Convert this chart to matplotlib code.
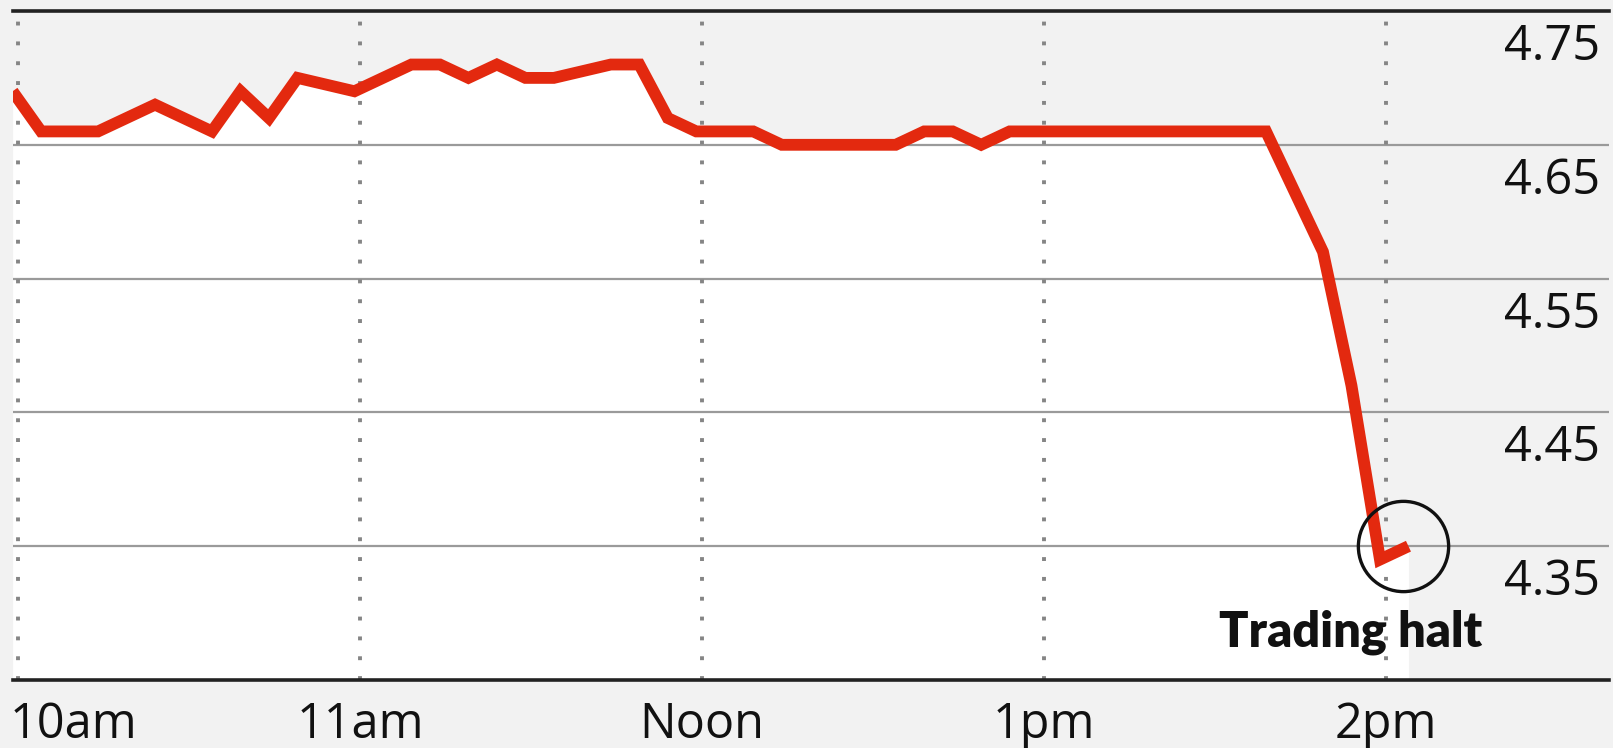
import matplotlib
matplotlib.use("Agg")
import matplotlib.pyplot as plt
import matplotlib.transforms as mtransforms

# share price through the session, minutes after 10am
minutes = [-1, 4, 14, 24, 34, 39, 44, 49, 59, 69, 74, 79, 84, 89, 94,
           104, 109, 114, 119, 129, 134, 154, 159, 164, 169, 174,
           219, 229, 234, 239, 244]
prices = [4.74, 4.71, 4.71, 4.73, 4.71, 4.74, 4.72, 4.75, 4.74, 4.76, 4.76,
          4.75, 4.76, 4.75, 4.75, 4.76, 4.76, 4.72, 4.71, 4.71, 4.70,
          4.70, 4.71, 4.71, 4.70, 4.71, 4.71, 4.62, 4.52, 4.39, 4.40]

hour_ticks = [0, 60, 120, 180, 240]
hour_labels = ["10am", "11am", "Noon", "1pm", "2pm"]
price_grid = [4.40, 4.50, 4.60, 4.70]
price_labels = [4.75, 4.65, 4.55, 4.45, 4.35]
halt_minute = 243
halt_note = "Trading halt"

bg = "#f2f2f2"
red = "#e3290f"
plt.rcParams["font.family"] = ["Open Sans", "DejaVu Sans"]

fig = plt.figure(figsize=(16.13, 7.48), dpi=100, facecolor=bg)
ax = fig.add_axes([13 / 1613, 68 / 748, 1596 / 1613, 669 / 748])
ax.set_facecolor(bg)
ax.set_xlim(-0.93, 279.2)
ax.set_ylim(4.30, 4.80)

# white area under the price line
ax.fill_between(minutes, prices, 4.30, color="white", lw=0, zorder=0.5)

for v in price_grid:
    ax.axhline(v, color="#9a9a9a", lw=1.6, zorder=1)
for t in hour_ticks:
    ax.axvline(t, color="#858585", lw=2.8, linestyle=(0, (1, 4.1)), zorder=1)

ax.plot(minutes, prices, color=red, lw=8.5, solid_joinstyle="miter",
        solid_capstyle="butt", zorder=3)
ax.plot([halt_minute], [prices[-1]], marker="o", ms=65, mfc="none",
        mec="#111111", mew=2.4, zorder=4)
ax.annotate(halt_note, xy=(halt_minute, prices[-1]), xytext=(57, -72),
            textcoords="offset points", ha="right", va="baseline",
            fontsize=35, fontweight="heavy",
            family=["Lato", "DejaVu Sans"], color="#111111")

# price labels sit inside the plot on the right
trans = mtransforms.blended_transform_factory(ax.transAxes, ax.transData)
for v in price_labels:
    ax.annotate(f"{v:.2f}", xy=(0.9945, v), xycoords=trans, xytext=(0, 22),
                textcoords="offset points", ha="right", va="center",
                fontsize=35, color="#111111")

ax.set_yticks([])
ax.set_xticks(hour_ticks)
ax.set_xticklabels(hour_labels, fontsize=35, color="#111111")
ax.tick_params(axis="x", length=0, pad=15)
first = ax.get_xticklabels()[0]
first.set_ha("left")
first.set_transform(first.get_transform() +
                    mtransforms.ScaledTranslation(-0.09, 0, fig.dpi_scale_trans))

for side in ["left", "right"]:
    ax.spines[side].set_visible(False)
for side in ["top", "bottom"]:
    ax.spines[side].set_color("#222222")
    ax.spines[side].set_linewidth(2.6)
    ax.spines[side].set_zorder(5)

fig.savefig("out.png", dpi=100, facecolor=bg)
